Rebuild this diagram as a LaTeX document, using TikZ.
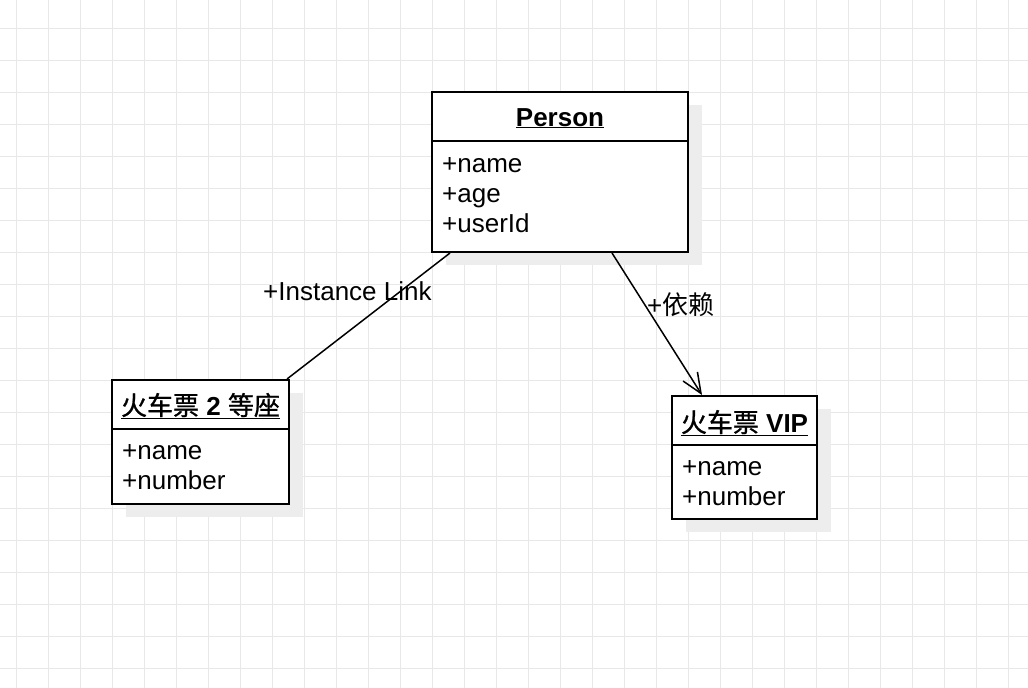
\documentclass[tikz,border=0pt]{standalone}
\usepackage{fontspec}
\setmainfont{Liberation Sans}
\newfontfamily\cjk{Noto Sans CJK SC}
\newfontfamily\cjktitle{Noto Sans CJK SC}[FakeBold=1]
\usetikzlibrary{arrows.meta,shadows}

\tikzset{
  gridline/.style={line width=1pt, color=black!9},
  classbox/.style={draw, line width=2pt, fill=white, inner sep=0pt,
    drop shadow={shadow xshift=14pt, shadow yshift=-13pt, fill=black!7, opacity=1}},
  classtitle/.style={anchor=base, inner sep=0pt, font=\fontsize{26}{30}\selectfont\bfseries},
  attr/.style={anchor=base west, inner sep=0pt, font=\fontsize{26}{30}\selectfont},
  linklabel/.style={anchor=base west, inner sep=0pt, font=\fontsize{26}{30}\selectfont},
  link/.style={line width=1.5pt},
}

\begin{document}
\begin{tikzpicture}[x=1pt, y=-1pt]
    \useasboundingbox (0,0) rectangle (1028,688);
    \fill[white] (0,0) rectangle (1028,688);
    \foreach \gx in {16,48,...,1008} \draw[gridline] (\gx,0) -- (\gx,688);
    \foreach \gy in {28,60,...,668} \draw[gridline] (0,\gy) -- (1028,\gy);

    % Person class
    \node[classbox, minimum width=256pt, minimum height=160pt] (person) at (560,172) {};
    \draw[line width=2pt] ([yshift=-50pt]person.north west) -- ([yshift=-50pt]person.north east);
    \node[classtitle] (persontitle) at (560,126) {\underline{Person}};
    \foreach \a [count=\i] in {name,age,userId}
        \node[attr] (person\a) at (442,142+30*\i) {+\a};

    % second class seat ticket
    \node[classbox, minimum width=177pt, minimum height=124pt] (secondseat) at (200.5,442) {};
    \draw[line width=2pt] ([yshift=-50pt]secondseat.north west) -- ([yshift=-50pt]secondseat.north east);
    \node[classtitle] (secondseattitle) at (200.5,415) {\underline{{\cjktitle\mdseries 火车票} 2 {\cjktitle\mdseries 等座}}};
    \foreach \a [count=\i] in {name,number}
        \node[attr] (secondseat\a) at (122,429+30*\i) {+\a};

    % VIP ticket
    \node[classbox, minimum width=145pt, minimum height=123pt] (vip) at (744.5,457.5) {};
    \draw[line width=2pt] ([yshift=-50pt]vip.north west) -- ([yshift=-50pt]vip.north east);
    \node[classtitle] (viptitle) at (744.5,432) {\underline{{\cjktitle\mdseries 火车票} VIP}};
    \foreach \a [count=\i] in {name,number}
        \node[attr] (vip\a) at (682,445+30*\i) {+\a};

    % links
    \draw[link] ([xshift=19pt]person.south west) -- ([xshift=-3pt]secondseat.north east);
    \node[linklabel] (instancelabel) at (263,300) {+Instance Link};
    \draw[link, -{Straight Barb[length=20pt,width=17pt]}] ([xshift=52pt]person.south) -- ([xshift=31pt]vip.north west);
    \node[linklabel] (dependlabel) at (647,314) {+{\cjk 依赖}};
\end{tikzpicture}
\end{document}
